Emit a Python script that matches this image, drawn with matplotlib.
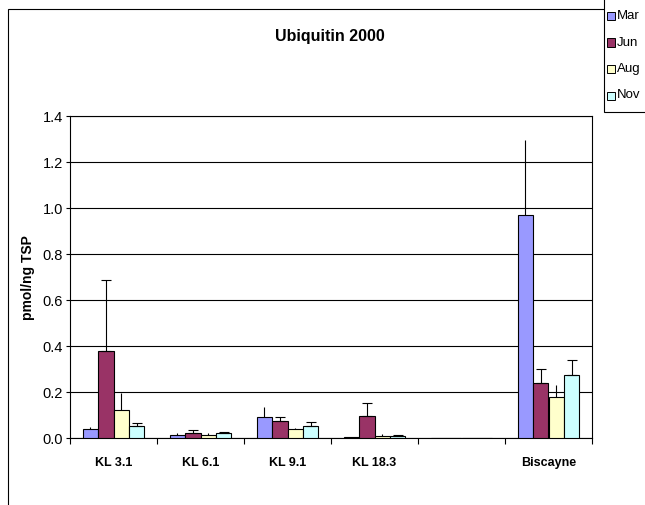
import numpy as np
import matplotlib
matplotlib.use("Agg")
import matplotlib.pyplot as plt
from matplotlib.patches import Rectangle

plt.rcParams['font.family'] = ['Liberation Sans', 'DejaVu Sans']

sites = ["KL 3.1", "KL 6.1", "KL 9.1", "KL 18.3", "", "Biscayne"]
months = ["Mar", "Jun", "Aug", "Nov"]
colors = ["#9999FF", "#993366", "#FFFFCC", "#CCFFFF"]

# mean values (pmol/ng TSP)
mar = [0.038, 0.015, 0.090, 0.003, 0.0, 0.971]
jun = [0.380, 0.022, 0.073, 0.096, 0.0, 0.238]
aug = [0.120, 0.015, 0.040, 0.010, 0.0, 0.180]
nov = [0.052, 0.022, 0.053, 0.010, 0.0, 0.273]

# top of the error bars
mar_top = [0.050, 0.020, 0.134, 0.003, 0.0, 1.295]
jun_top = [0.685, 0.033, 0.093, 0.154, 0.0, 0.302]
aug_top = [0.195, 0.020, 0.045, 0.018, 0.0, 0.231]
nov_top = [0.067, 0.027, 0.070, 0.012, 0.0, 0.339]

values = [mar, jun, aug, nov]
tops = [mar_top, jun_top, aug_top, nov_top]
caps = [0, 3.5, 0, 3.5]

fig = plt.figure(figsize=(6.45, 5.05), dpi=100)
ax = fig.add_axes([70/645, (505-438)/505, (592-70)/645, (438-116)/505])

x = np.arange(len(sites)) + 0.5
w = 0.178
for i, (vals, tp) in enumerate(zip(values, tops)):
    xs = x + (i - 1.5) * w
    vals = np.array(vals)
    tp = np.array(tp)
    ax.bar(xs, vals, w, color=colors[i], edgecolor="black", linewidth=0.8, zorder=3)
    err = np.clip(tp - vals, 0, None)
    mask = err > 0
    ax.errorbar(xs[mask], vals[mask], yerr=[np.zeros(mask.sum()), err[mask]],
                fmt="none", ecolor="black", elinewidth=0.8, capsize=caps[i],
                capthick=0.8, zorder=4)

ax.set_xlim(0, len(sites))
ax.set_ylim(0, 1.4)
ax.set_yticks(np.arange(0, 1.41, 0.2))
ax.set_yticklabels(["%.1f" % v for v in np.arange(0, 1.41, 0.2)], fontsize=10.5)
ax.yaxis.grid(True, color="black", linewidth=0.8)
ax.set_axisbelow(True)

ax.set_xticks(np.arange(0, len(sites) + 1))
ax.set_xticklabels([])
ax.set_xticks(x, minor=True)
ax.set_xticklabels(sites, minor=True, fontsize=9, fontweight="bold")
ax.tick_params(axis="x", which="major", direction="out", length=4, width=0.8)
ax.tick_params(axis="x", which="minor", length=0, pad=14)
ax.tick_params(axis="y", direction="out", length=3, width=0.8, pad=2)
for s in ax.spines.values():
    s.set_linewidth(0.8)
    s.set_color("black")

fig.text(330/645, (505-37)/505, "Ubiquitin 2000", ha="center", va="center",
         fontsize=11.5, fontweight="bold")
fig.text(28/645, (505-278)/505, "pmol/ng TSP", ha="center", va="center",
         rotation=90, fontsize=10, fontweight="bold")

# chart area border
fig.add_artist(Rectangle((8/645, -0.1), 1.0, (505-9)/505 + 0.1,
                         transform=fig.transFigure, fill=False,
                         edgecolor="black", linewidth=0.8))

# legend box (extends past the right edge)
fig.add_artist(Rectangle((604/645, (505-112)/505), 0.2, 0.3,
                         transform=fig.transFigure, facecolor="white",
                         edgecolor="black", linewidth=0.8, zorder=5))
for i, m in enumerate(months):
    yc = 16 + i * 26.5
    fig.add_artist(Rectangle((607/645, (505-yc-4)/505), 8/645, 8/505,
                             transform=fig.transFigure, facecolor=colors[i],
                             edgecolor="black", linewidth=0.7, zorder=6))
    fig.text(617/645, (505-yc)/505, m, ha="left", va="center",
             fontsize=9.5, zorder=6)

fig.savefig("out.png", dpi=100)
